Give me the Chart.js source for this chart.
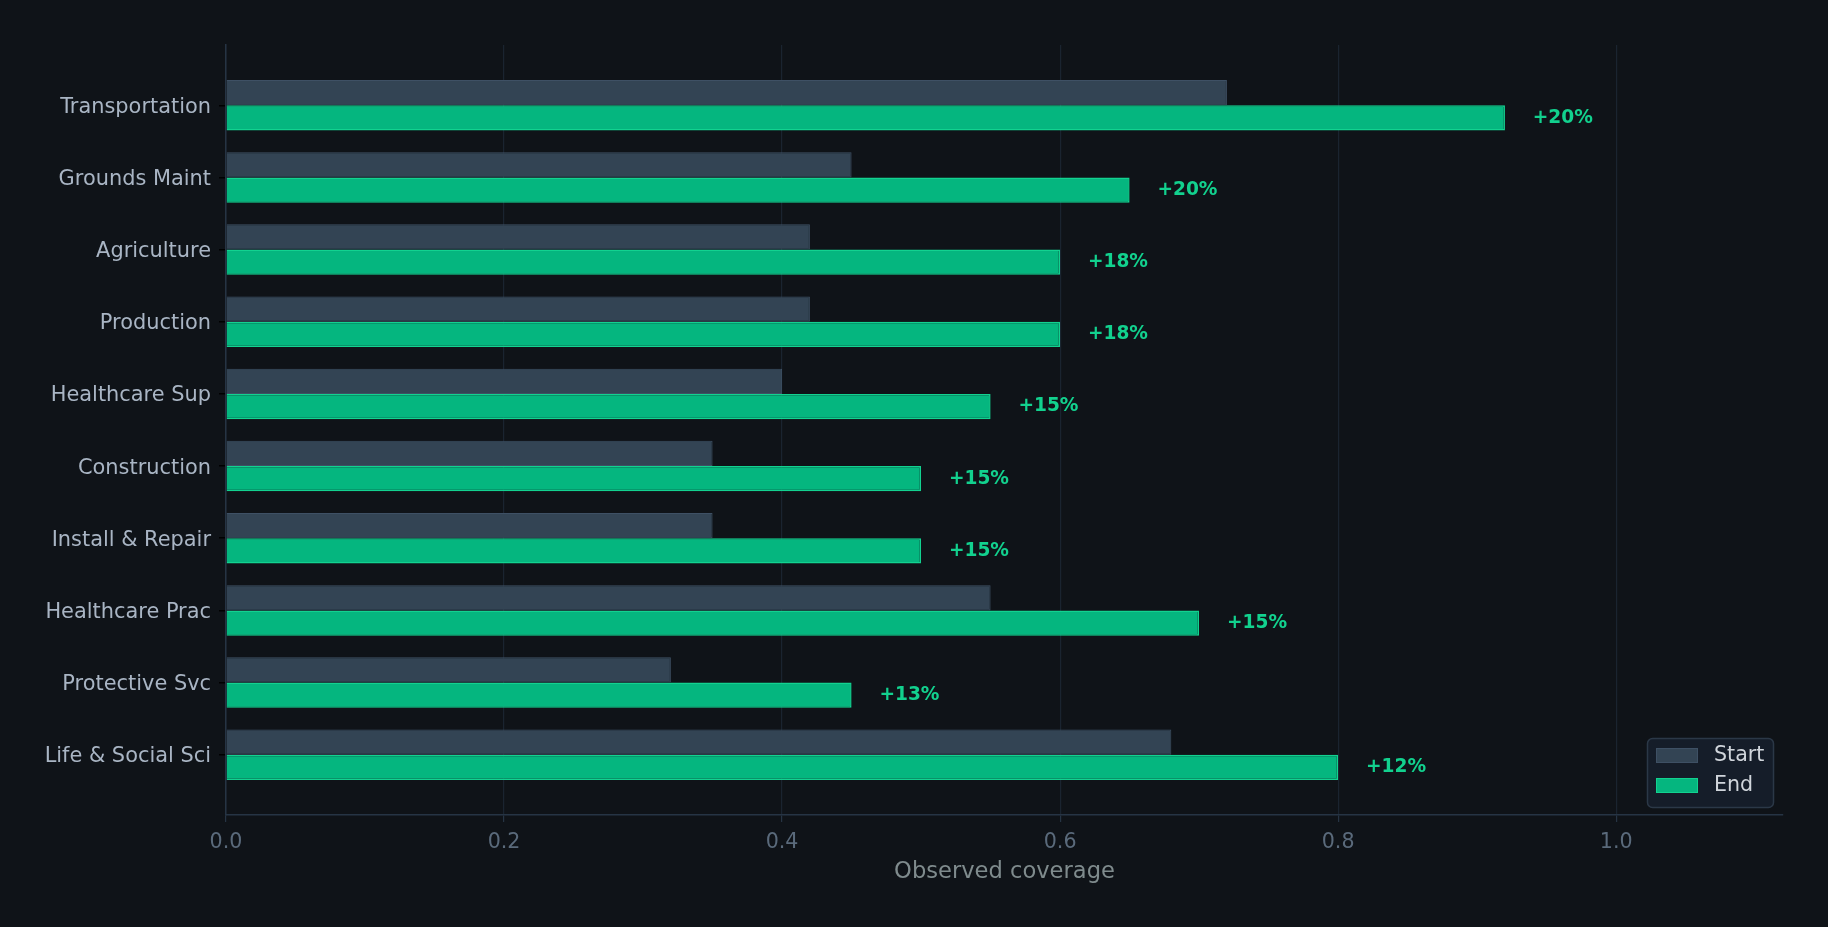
<!DOCTYPE html>
<html>
<head>
<meta charset="utf-8">
<script src="https://cdn.jsdelivr.net/npm/chart.js@4.4.1/dist/chart.umd.min.js"></script>
<style>
  html, body { margin: 0; padding: 0; background: #0f1318; }
  #wrap { width: 1828px; height: 927px; position: relative; }
</style>
</head>
<body>
<div id="wrap"><canvas id="c" width="1828" height="927"></canvas></div>
<script>
const categories = ["Transportation", "Grounds Maint", "Agriculture", "Production", "Healthcare Sup",
  "Construction", "Install & Repair", "Healthcare Prac", "Protective Svc", "Life & Social Sci"];
const startValues = [0.72, 0.45, 0.42, 0.42, 0.40, 0.35, 0.35, 0.55, 0.32, 0.68];
const endValues   = [0.92, 0.65, 0.60, 0.60, 0.55, 0.50, 0.50, 0.70, 0.45, 0.80];
const deltaLabels = ["+20%", "+20%", "+18%", "+18%", "+15%", "+15%", "+15%", "+15%", "+13%", "+12%"];
const xTicks = [0.0, 0.2, 0.4, 0.6, 0.8, 1.0];

const FONT = "'DejaVu Sans', 'Noto Sans', sans-serif";
const SPINE = '#263444';

const deltaPlugin = {
  id: 'deltaLabels',
  afterDatasetsDraw(chart) {
    const ctx = chart.ctx;
    const xs = chart.scales.x;
    const meta = chart.getDatasetMeta(1);
    ctx.save();
    ctx.font = "bold 18.6px " + FONT;
    ctx.fillStyle = '#12d18e';
    ctx.textAlign = 'left';
    ctx.textBaseline = 'middle';
    meta.data.forEach((bar, i) => {
      const px = xs.getPixelForValue(endValues[i] + 0.02);
      ctx.fillText(deltaLabels[i], px, bar.y);
    });
    ctx.restore();
  }
};

const legendPlugin = {
  id: 'boxLegend',
  afterDraw(chart) {
    const ctx = chart.ctx;
    const ds = chart.data.datasets;
    const x0 = 1647, y0 = 738, w = 126, h = 69, r = 5;
    ctx.save();
    ctx.beginPath();
    ctx.roundRect(x0 + 0.5, y0 + 0.5, w, h, r);
    ctx.fillStyle = '#151d29';
    ctx.fill();
    ctx.lineWidth = 1.5;
    ctx.strokeStyle = '#2b3847';
    ctx.stroke();
    ds.forEach((d, i) => {
      const py = y0 + 10 + i * 30;
      ctx.fillStyle = d.backgroundColor;
      ctx.fillRect(x0 + 9, py, 42, 15);
      ctx.lineWidth = 1;
      ctx.strokeStyle = d.borderColor;
      ctx.strokeRect(x0 + 9.5, py + 0.5, 41, 14);
      ctx.fillStyle = '#d0d5db';
      ctx.font = "20.6px " + FONT;
      ctx.textAlign = 'left';
      ctx.textBaseline = 'middle';
      ctx.fillText(d.label, x0 + 67, py + 8);
    });
    ctx.restore();
  }
};

new Chart(document.getElementById('c'), {
  type: 'bar',
  data: {
    datasets: [
      {
        label: 'Start',
        data: categories.map((c, i) => ({ x: startValues[i], y: i })),
        backgroundColor: '#334454',
        borderColor: '#3e5064',
        borderWidth: 1,
        categoryPercentage: 0.7,
        barPercentage: 1.0
      },
      {
        label: 'End',
        data: categories.map((c, i) => ({ x: endValues[i], y: i })),
        backgroundColor: '#05b67f',
        borderColor: '#12d290',
        borderWidth: 1.5,
        categoryPercentage: 0.7,
        barPercentage: 1.0
      }
    ]
  },
  options: {
    indexAxis: 'y',
    responsive: false,
    animation: false,
    devicePixelRatio: 1,
    layout: { padding: { top: 45, right: 45, left: 0, bottom: 41 } },
    plugins: {
      legend: { display: false },
      tooltip: { enabled: false }
    },
    scales: {
      x: {
        type: 'linear',
        position: 'bottom',
        min: 0,
        max: 1.12,
        z: 1,
        afterBuildTicks(scale) { scale.ticks = xTicks.map(v => ({ value: v })); },
        ticks: {
          callback: (v) => Number(v).toFixed(1),
          color: '#5a6a7b',
          font: { family: FONT, size: 20.6 },
          padding: 8,
          maxRotation: 0
        },
        grid: {
          color: '#1a2430',
          lineWidth: 1.2,
          tickColor: SPINE,
          tickLength: 7,
          drawTicks: true
        },
        border: { display: true, color: SPINE, width: 1.5 },
        title: {
          display: true,
          text: 'Observed coverage',
          color: '#7f8b8d',
          font: { family: FONT, size: 22.6 },
          padding: { top: 0, bottom: 0 }
        },
        afterFit(scale) { scale.height = 71; }
      },
      y: {
        type: 'linear',
        reverse: true,
        offset: false,
        min: -0.835,
        max: 9.835,
        afterBuildTicks(scale) { scale.ticks = categories.map((c, i) => ({ value: i })); },
        ticks: {
          callback: (v) => categories[v],
          color: '#a9b5c4',
          font: { family: FONT, size: 20.9 },
          padding: 8,
          labelOffset: 2
        },
        grid: {
          display: true,
          offset: false,
          drawOnChartArea: false,
          tickColor: '#000000',
          tickLength: 7,
          lineWidth: 1.5
        },
        border: { display: true, color: SPINE, width: 1.5 },
        afterFit(scale) { scale.width = 226; }
      }
    }
  },
  plugins: [deltaPlugin, legendPlugin]
});
</script>
</body>
</html>
